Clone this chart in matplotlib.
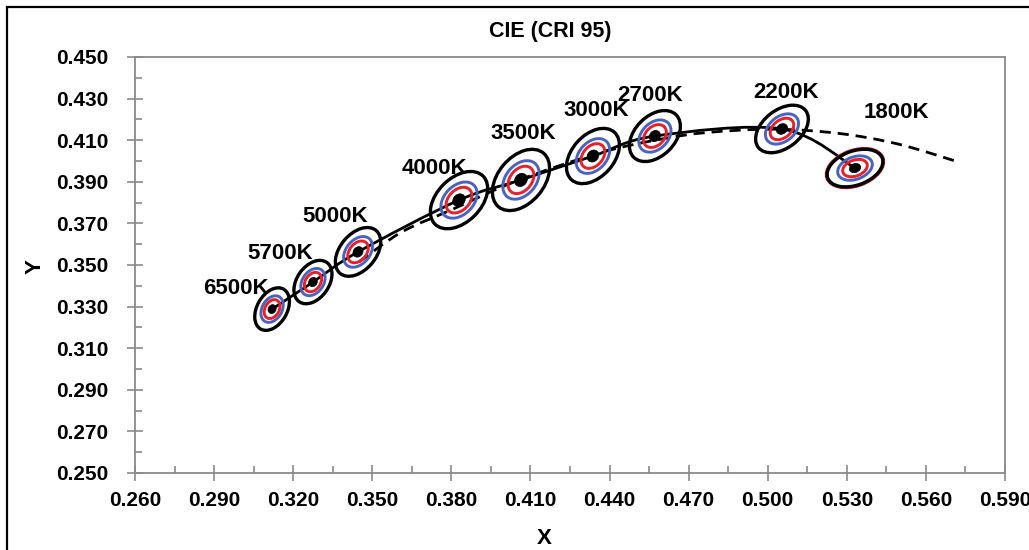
import numpy as np
import matplotlib
matplotlib.use("Agg")
import matplotlib.pyplot as plt
from matplotlib.path import Path
from matplotlib.patches import PathPatch, Ellipse, Rectangle
from matplotlib.transforms import ScaledTranslation

plt.rcParams['font.family'] = ['Liberation Sans', 'DejaVu Sans']
plt.rcParams['font.weight'] = 'bold'

# Puntos medidos (CCT) en coordenadas CIE 1931 xy
cct_labels = ["6500K", "5700K", "5000K", "4000K", "3500K", "3000K", "2700K", "2200K", "1800K"]
cct_x = [0.3120, 0.3275, 0.3446, 0.3829, 0.4064, 0.4337, 0.4572, 0.5054, 0.5331]
cct_y = [0.3288, 0.3418, 0.3563, 0.3812, 0.3909, 0.4024, 0.4120, 0.4154, 0.3966]

# Posición de las etiquetas
label_x = [0.2983, 0.3150, 0.3359, 0.3734, 0.4072, 0.4349, 0.4553, 0.5069, 0.5487]
label_y = [0.3385, 0.3553, 0.3731, 0.3962, 0.4130, 0.4245, 0.4317, 0.4327, 0.4231]

# Elipses exteriores (semiejes en px, inclinación en grados)
ell_a = [23, 24, 28, 34, 35, 32, 30, 30, 29]
ell_b = [15, 16, 18, 22, 23, 21, 20, 19, 17]
ell_ang = [60, 55, 50, 45, 50, 48, 45, 38, 20]

# Locus de Planck
planck_x = [0.3451, 0.3611, 0.3805, 0.4053, 0.4369, 0.4599, 0.4770, 0.5019, 0.5267, 0.5496, 0.5729]
planck_y = [0.3516, 0.3658, 0.3768, 0.3907, 0.4041, 0.4106, 0.4137, 0.4153, 0.4133, 0.4081, 0.3993]

# Ejes
x_ticks = [0.260, 0.290, 0.320, 0.350, 0.380, 0.410, 0.440, 0.470, 0.500, 0.530, 0.560, 0.590]
y_ticks = [0.250, 0.270, 0.290, 0.310, 0.330, 0.350, 0.370, 0.390, 0.410, 0.430, 0.450]


def smooth_path(xs, ys):
    # curva suavizada tipo Excel (Bezier Catmull-Rom)
    p = np.column_stack([xs, ys])
    n = len(p)
    verts = [p[0]]
    codes = [Path.MOVETO]
    for i in range(n - 1):
        p0 = p[max(i - 1, 0)]
        p1 = p[i]
        p2 = p[i + 1]
        p3 = p[min(i + 2, n - 1)]
        verts += [p1 + (p2 - p0) / 6, p2 - (p3 - p1) / 6, p2]
        codes += [Path.CURVE4] * 3
    return Path(verts, codes)


fig = plt.figure(figsize=(10.29, 5.5), dpi=100)
ax = fig.add_axes([135 / 1029, 1 - 473 / 550, 870 / 1029, 416 / 550])

ax.set_xlim(x_ticks[0], x_ticks[-1])
ax.set_ylim(y_ticks[0], y_ticks[-1])

ax.add_patch(PathPatch(smooth_path(planck_x, planck_y), fill=False, color='black',
                       lw=2.0, linestyle=(0, (4, 2.5)), zorder=2))
ax.add_patch(PathPatch(smooth_path(cct_x, cct_y), fill=False, color='black', lw=2.0, zorder=3))

for i in range(len(cct_x)):
    tr = fig.dpi_scale_trans + ScaledTranslation(cct_x[i], cct_y[i], ax.transData)
    a, b, ang = ell_a[i] / 100, ell_b[i] / 100, ell_ang[i]
    if cct_labels[i] == "1800K":
        ax.add_patch(Ellipse((0, 0), 2 * a + 0.035, 2 * b + 0.035, angle=ang, transform=tr,
                             fill=False, ec='#c0202a', lw=0.9, zorder=4))
    ax.add_patch(Ellipse((0, 0), 2 * a, 2 * b, angle=ang, transform=tr,
                         fill=False, ec='black', lw=2.4, zorder=4))
    ax.add_patch(Ellipse((0, 0), 2 * a * 0.62, 2 * b * 0.66, angle=ang, transform=tr,
                         fill=False, ec='#4a63c0', lw=2.1, zorder=5))
    ax.add_patch(Ellipse((0, 0), 2 * a * 0.44, 2 * b * 0.47, angle=ang, transform=tr,
                         fill=False, ec='#e8202a', lw=2.1, zorder=5))
    ax.add_patch(Ellipse((0, 0), 2 * a * 0.2, 2 * b * 0.26, angle=ang, transform=tr,
                         fc='black', ec='black', lw=0.5, zorder=6))
    ax.text(label_x[i], label_y[i], cct_labels[i], ha='center', va='center',
            fontsize=16, fontweight='bold', zorder=7)

ax.set_xticks(x_ticks)
ax.set_yticks(y_ticks)
ax.set_xticks(np.array(x_ticks[:-1]) + 0.015, minor=True)
ax.set_yticks(np.array(y_ticks[:-1]) + 0.01, minor=True)
ax.set_xticklabels([f"{v:.3f}" for v in x_ticks])
ax.set_yticklabels([f"{v:.3f}" for v in y_ticks])

ax.tick_params(which='major', direction='inout', length=12, width=1.2, color='#8a8a8a',
               labelsize=15)
ax.tick_params(axis='x', which='major', pad=7)
ax.tick_params(axis='y', which='major', pad=13)
ax.tick_params(which='minor', direction='in', length=5, width=1.2, color='#8a8a8a')
for lab in ax.get_xticklabels() + ax.get_yticklabels():
    lab.set_fontweight('bold')
for s in ax.spines.values():
    s.set_color('#8a8a8a')
    s.set_linewidth(1.3)

fig.text(550 / 1029, 1 - 32 / 550, "CIE (CRI 95)", ha='center', va='center',
         fontsize=15.5, fontweight='bold')
fig.text(544 / 1029, 1 - 538 / 550, "X", ha='center', va='center',
         fontsize=16, fontweight='bold')
fig.text(35 / 1029, 1 - 267 / 550, "Y", ha='center', va='center', rotation=90,
         fontsize=16, fontweight='bold')

fig.patches.append(Rectangle((7 / 1029, -0.1), 1.2, 1.1 - 7 / 550, transform=fig.transFigure,
                             fill=False, ec='black', lw=1.6, clip_on=False))

fig.savefig("out.png", dpi=100)
